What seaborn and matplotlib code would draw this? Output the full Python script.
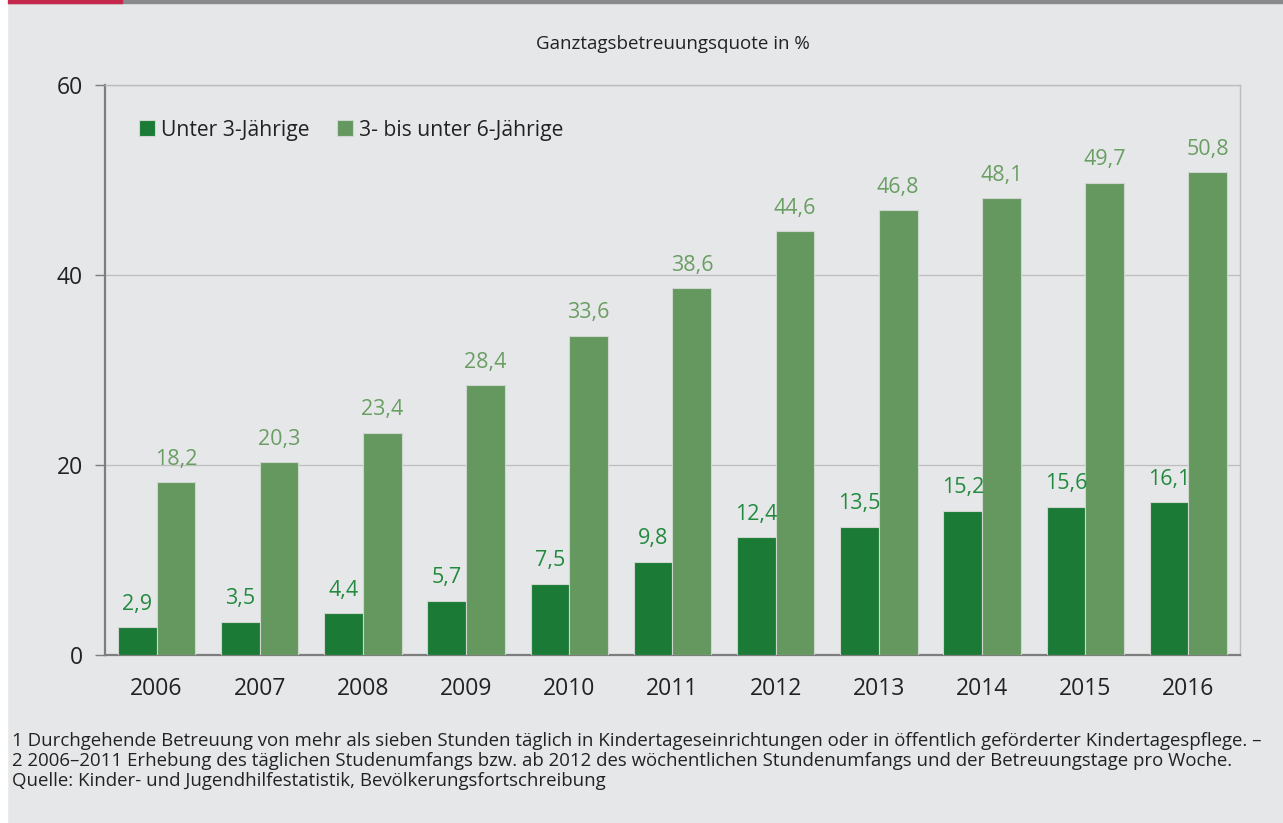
import matplotlib.pyplot as plt
import seaborn as sns
import pandas as pd
from matplotlib.patches import Rectangle
from matplotlib.ticker import FixedLocator

years = ['2006', '2007', '2008', '2009', '2010', '2011', '2012', '2013', '2014', '2015', '2016']
unter_3 = [2.9, 3.5, 4.4, 5.7, 7.5, 9.8, 12.4, 13.5, 15.2, 15.6, 16.1]
drei_bis_6 = [18.2, 20.3, 23.4, 28.4, 33.6, 38.6, 44.6, 46.8, 48.1, 49.7, 50.8]
series_names = ['Unter 3-Jährige', '3- bis unter 6-Jährige']

bg = '#e6e7e9'
dark_green = '#1a7a36'
light_green = '#64985f'

df = pd.DataFrame({
    'Jahr': years * 2,
    'Quote': unter_3 + drei_bis_6,
    'Gruppe': [series_names[0]] * len(years) + [series_names[1]] * len(years),
})

sns.set_style('white')
plt.rcParams['font.family'] = ['Open Sans', 'DejaVu Sans']

fig = plt.figure(figsize=(12.83, 8.23), dpi=100, facecolor=bg)
ax = fig.add_axes([0.0818, 0.2041, 0.8847, 0.6926])
ax.set_facecolor(bg)

# top band and left white strip
fig.patches.append(Rectangle((0, 0.9965), 1, 0.0035, transform=fig.transFigure, color='#8a8a8c', zorder=5))
fig.patches.append(Rectangle((0.0062, 0.9965), 0.089, 0.0035, transform=fig.transFigure, color='#c5284c', zorder=6))
fig.patches.append(Rectangle((0, 0), 0.0055, 1, transform=fig.transFigure, color='white', zorder=5))

sns.barplot(data=df, x='Jahr', y='Quote', hue='Gruppe', hue_order=series_names,
            palette=[dark_green, light_green], width=0.75, saturation=1,
            edgecolor='#cfd6cf', linewidth=0.8, ax=ax, zorder=3)

label_colors = ['#228a3e', '#6a9e63']
for cont, col in zip(ax.containers, label_colors):
    ax.bar_label(cont, labels=[f'{v:.1f}'.replace('.', ',') for v in cont.datavalues],
                 padding=9, color=col, fontsize=15.5)

ax.set_xlim(-0.5, len(years) - 0.5)
ax.set_ylim(0, 60)
ax.set_yticks([0, 20, 40, 60])
ax.yaxis.grid(True, color='#bdbdbd', linewidth=0.9, zorder=0)
ax.set_axisbelow(True)
ax.set_xlabel('')
ax.set_ylabel('')

ax.xaxis.set_minor_locator(FixedLocator([i - 0.5 for i in range(len(years) + 1)]))
ax.tick_params(axis='x', which='major', length=0, labelsize=16.5, pad=16, colors='#222222')
ax.tick_params(axis='x', which='minor', length=7, width=1, color='#7d7d7d', direction='out')
ax.tick_params(axis='y', length=7, width=1, color='#7d7d7d', labelsize=16.5, pad=9, labelcolor='#222222', left=True)

for side in ['left', 'bottom']:
    ax.spines[side].set_color('#7d7d7d')
    ax.spines[side].set_linewidth(1.6)
for side in ['top', 'right']:
    ax.spines[side].set_visible(True)
    ax.spines[side].set_color('#bdbdbd')
    ax.spines[side].set_linewidth(1)

ax.set_title('Ganztagsbetreuungsquote in %', fontsize=13.5, pad=26, color='#222222')

handles, labels = ax.get_legend_handles_labels()
ax.legend(handles, labels, loc='center left', bbox_to_anchor=(0.013, 0.921), ncol=2,
          frameon=False, fontsize=15.2, handlelength=0.75, handleheight=0.75, handletextpad=0.3,
          columnspacing=1.3, labelcolor='#222222')

footnotes = ('1 Durchgehende Betreuung von mehr als sieben Stunden täglich in Kindertageseinrichtungen oder in öffentlich geförderter Kindertagespflege. –\n'
             '2 2006–2011 Erhebung des täglichen Studenumfangs bzw. ab 2012 des wöchentlichen Stundenumfangs und der Betreuungstage pro Woche.\n'
             'Quelle: Kinder- und Jugendhilfestatistik, Bevölkerungsfortschreibung')
fig.text(0.0093, 0.0753, footnotes, fontsize=13.4, va='center', ha='left', linespacing=1.15, color='#222222')

plt.savefig('out.png', dpi=100, facecolor=bg)
